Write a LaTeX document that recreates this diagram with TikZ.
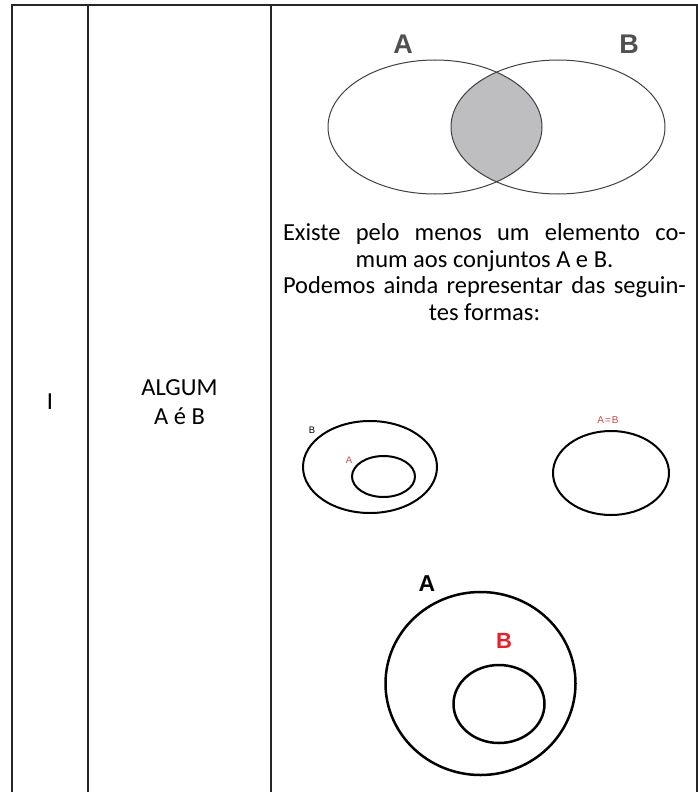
\documentclass[tikz,border=0pt]{standalone}
\usepackage{fontspec}
\setmainfont{Carlito}
\newfontfamily\labelfont{Liberation Sans}
\usepackage{tikz}

\definecolor{rulegray}{HTML}{262626}
\definecolor{lensgray}{HTML}{BEBEC1}
\definecolor{labelgray}{HTML}{505050}
\definecolor{smallred}{HTML}{D04848}
\definecolor{bigred}{HTML}{E8202A}

\begin{document}
\begin{tikzpicture}[x=1pt, y=-1pt,
    rule/.style={line width=2pt, rulegray},
    venn/.style={line width=1pt, black!75},
    setline/.style={line width=2pt, black},
    bodytext/.style={font=\fontsize{24.5}{26.5}\selectfont, inner sep=0pt, anchor=base}]
    \useasboundingbox (0,0) rectangle (698,792);

    % Table
    \draw[rule] (12,800) -- (12,5) -- (697,5) -- (697,800);
    \draw[rule] (88,5) -- (88,800);
    \draw[rule] (271,5) -- (271,800);
    \node[bodytext] (num) at (50,409) {I};
    \node[bodytext] (quant) at (179.5,395) {ALGUM};
    \node[bodytext] (quantb) at (179.5,424) {A é B};

    % Venn diagram
    \begin{scope}
        \clip (435,127) ellipse [x radius=107pt, y radius=67pt];
        \fill[lensgray] (558,127) ellipse [x radius=107pt, y radius=67pt];
    \end{scope}
    \draw[venn] (435,127) ellipse [x radius=107pt, y radius=67pt];
    \draw[venn] (558,127) ellipse [x radius=107pt, y radius=67pt];
    \node[font=\labelfont\bfseries\fontsize{27}{27}\selectfont, labelgray] (vennA) at (403,44) {A};
    \node[font=\labelfont\bfseries\fontsize{27}{27}\selectfont, labelgray] (vennB) at (629,44) {B};

    % Text
    \node[bodytext] (txta) at (484.5,240) {\makebox[403pt][s]{Existe pelo menos um elemento co-}};
    \node[bodytext] (txtb) at (484.5,267) {mum aos conjuntos A e B.};
    \node[bodytext] (txtc) at (484.5,293) {\makebox[403pt][s]{Podemos ainda representar das seguin-}};
    \node[bodytext] (txtd) at (484.5,320) {tes formas:};

    % A inside B
    \draw[setline] (370,467) ellipse [x radius=67pt, y radius=46pt];
    \draw[setline] (383.5,476.5) ellipse [x radius=31.5pt, y radius=20.5pt];
    \node[font=\labelfont\fontsize{9.5}{9.5}\selectfont] (smallB) at (312,430) {B};
    \node[font=\labelfont\fontsize{9.5}{9.5}\selectfont, smallred] (smallA) at (349,460) {A};

    % A equal B
    \draw[setline] (611,473) ellipse [x radius=58pt, y radius=42pt];
    \node[font=\labelfont\fontsize{10}{10}\selectfont, smallred] (same) at (608,420) {A\kern1pt=\kern1pt B};

    % B inside A
    \draw[setline, line width=2.5pt] (480.5,683.5) ellipse [x radius=95pt, y radius=91.5pt];
    \draw[setline, line width=2.5pt] (499,704) ellipse [x radius=45.5pt, y radius=39pt];
    \node[font=\labelfont\bfseries\fontsize{23}{23}\selectfont] (bigA) at (427,584) {A};
    \node[font=\labelfont\bfseries\fontsize{22}{22}\selectfont, bigred] (bigB) at (504,641) {B};
\end{tikzpicture}
\end{document}
